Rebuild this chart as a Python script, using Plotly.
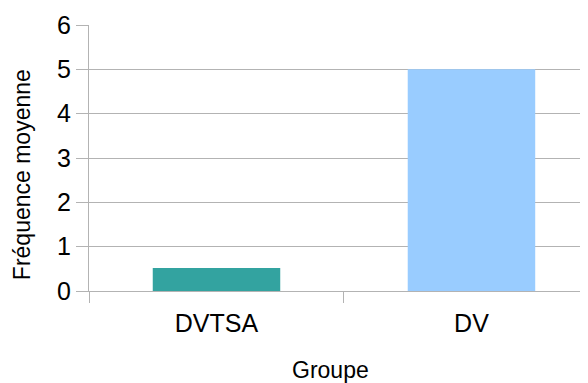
import plotly.graph_objects as go

categories = ["DVTSA", "DV"]
values = [0.52, 5.0]
bar_colors = ["#33a3a0", "#99ccff"]
y_ticks = [0, 1, 2, 3, 4, 5, 6]
x_title = "Groupe"
y_title = "Fréquence moyenne"

fig = go.Figure(
    go.Bar(x=categories, y=values, marker=dict(color=bar_colors, line=dict(width=0)), width=0.5)
)

# page body has an 8px margin; figure is sized to end at the window edge
fig.update_layout(
    width=580, height=375,
    margin=dict(l=81, r=0, t=17, b=92),
    paper_bgcolor="white", plot_bgcolor="white",
    font=dict(family="Liberation Sans, Arial, sans-serif", color="black"),
    showlegend=False,
    annotations=[
        dict(text=x_title, xref="paper", yref="paper", x=0.483, y=-0.297,
             xanchor="center", yanchor="middle", showarrow=False, font=dict(size=23)),
        dict(text=y_title, xref="paper", yref="paper", x=-0.134, y=0.436,
             xanchor="center", yanchor="middle", showarrow=False, textangle=-90,
             font=dict(size=23)),
    ],
)

fig.update_xaxes(
    range=[-0.5, 1.457],
    tickson="boundaries",
    ticks="outside", ticklen=11, tickcolor="#b3b3b3", tickwidth=1,
    showgrid=False,
    showline=True, linecolor="#b3b3b3", linewidth=1,
    tickfont=dict(size=25),
    ticklabelstandoff=10,
)

fig.update_yaxes(
    range=[0, 6],
    tickvals=y_ticks,
    ticks="outside", ticklen=12, tickcolor="#b3b3b3", tickwidth=1,
    showgrid=True, gridcolor="#b3b3b3", gridwidth=1,
    showline=True, linecolor="#b3b3b3", linewidth=1,
    zeroline=False,
    tickfont=dict(size=25),
)

fig.write_html("out.html")
